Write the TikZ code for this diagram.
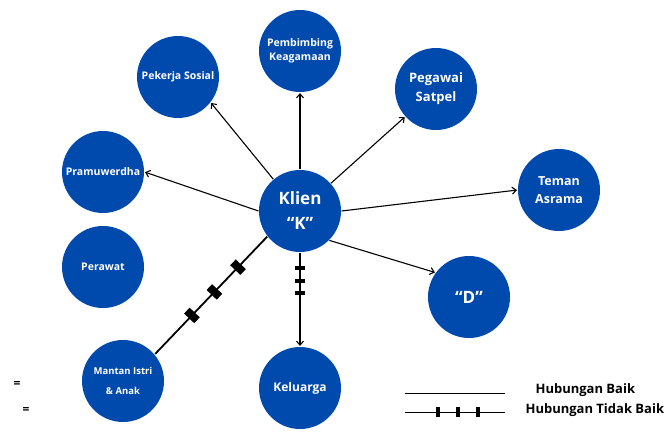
\documentclass[tikz,border=0pt]{standalone}
\usepackage{fontspec}
\setmainfont{Open Sans}
\usetikzlibrary{arrows.meta,automata}
\definecolor{nodeblue}{HTML}{004AAD}

\begin{document}
\begin{tikzpicture}[
    x = 1pt, y = -1pt, % pixel-like units, y down
    > = {Straight Barb[length=4pt,width=7pt]}, % arrow head style
    shorten > = 0.5pt, % don't touch arrow head to node
    line width = 1.1pt % line style
    ]

    \tikzset{every state/.style={
    draw = none,
    fill = nodeblue,
    text = white,
    minimum size = 82pt,
    inner sep = 0pt,
    align = center,
    font = \bfseries\fontsize{10.5}{14}\selectfont
    }}
    \tikzset{bar/.style={fill=black, draw=none, inner sep=0pt, sloped,
    minimum width=4pt, minimum height=9.5pt}}
    \tikzset{bigbar/.style={bar, minimum width=8pt, minimum height=14pt}}
    \tikzset{legend/.style={font=\bfseries\fontsize{13}{15}\selectfont, anchor=west, inner sep=0pt}}

    \useasboundingbox (0,0) rectangle (668,431);

    \node[state,font=\bfseries\fontsize{17}{25}\selectfont] (k) at (300,211) {Klien\\``K''};
    \node[state] (pemb) at (300,51) {Pembimbing\\Keagamaan};
    \node[state] (pek) at (178,77) {Pekerja Sosial};
    \node[state,font=\bfseries\fontsize{13}{19}\selectfont] (peg) at (436,89) {Pegawai\\Satpel};
    \node[state] (pram) at (103,172) {Pramuwerdha};
    \node[state] (per) at (103,267) {Perawat};
    \node[state,font=\bfseries\fontsize{12.5}{18}\selectfont] (tem) at (559,190) {Teman\\Asrama};
    \node[state,font=\bfseries\fontsize{17}{25}\selectfont] (d) at (469,297) {``D''};
    \node[state,font=\bfseries\fontsize{12}{16}\selectfont] (kel) at (300,388) {Keluarga};
    \node[state,font=\bfseries\fontsize{9.5}{20}\selectfont] (man) at (123,381) {Mantan Istri\\\& Anak};

    \path[->] (k) edge (pemb);
    \path[->] (k.130) edge (pek.-38);
    \path[->] (k) edge (peg);
    \path[->] (k.west) edge (pram.east);
    \path[->] (k.east) edge (tem.west);
    \path[->] (k.-45) edge (d.144);
    \path[->] (k) edge node[bar,pos=0.16]{} node[bar,pos=0.305]{} node[bar,pos=0.43]{} (kel);
    \path (k.218) edge[line width=1.8pt] node[bigbar,pos=0.26]{} node[bigbar,pos=0.47]{} node[bigbar,pos=0.67]{} (man.40);

    % legend
    \coordinate (baikA) at (405,393);
    \coordinate (baikB) at (505,393);
    \coordinate (tidakA) at (405,412);
    \coordinate (tidakB) at (505,412);
    \path (baikA) edge[line width=1pt] (baikB);
    \path (tidakA) edge[line width=1pt] node[bar,minimum height=10pt,pos=0.33]{} node[bar,minimum height=10pt,pos=0.53]{} node[bar,minimum height=10pt,pos=0.73]{} (tidakB);
    \node[legend] (baiklbl) at (535,390) {Hubungan Baik};
    \node[legend] (tidaklbl) at (525,410) {Hubungan Tidak Baik};

    \node[font=\bfseries\fontsize{12}{14}\selectfont] (eq1) at (17,384) {=};
    \node[font=\bfseries\fontsize{12}{14}\selectfont] (eq2) at (26,410) {=};
\end{tikzpicture}
\end{document}
